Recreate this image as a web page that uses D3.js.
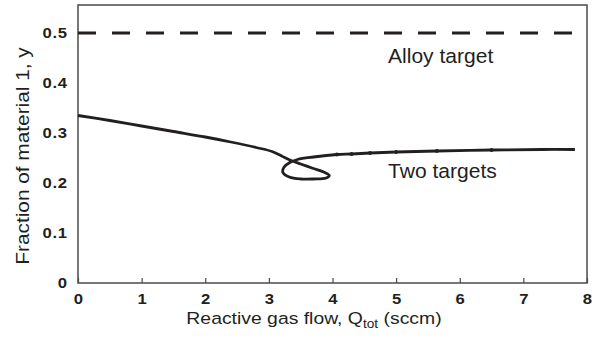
<!DOCTYPE html>
<html>
<head>
<meta charset="utf-8">
<script src="https://cdn.jsdelivr.net/npm/d3@7"></script>
<style>
body { margin: 0; background: #fff; }
text { font-family: "Liberation Sans", Arial, sans-serif; fill: #231f20; }
</style>
</head>
<body>
<div id="chart"></div>
<script>
//////////////////////////////////////////////////////////////////////////////
// Data

var xTicks = [0, 1, 2, 3, 4, 5, 6, 7, 8];
var yTicks = [0, 0.1, 0.2, 0.3, 0.4, 0.5];
var yTickLabels = ["0", "0.1", "0.2", "0.3", "0.4", "0.5"];

var alloyTarget = 0.5;

// two-target curve (with the hysteresis loop)
var flowQ = [0, 0.5, 1, 1.5, 2, 2.4, 2.8, 3.05, 3.2, 3.33, 3.5, 3.7, 3.88, 3.95, 3.9, 3.7, 3.5, 3.32, 3.22, 3.24, 3.33, 3.45, 3.7, 4.07, 4.3, 4.59, 5.0, 5.64, 6.5, 7.3, 7.81];
var fracY = [0.335, 0.325, 0.314, 0.303, 0.292, 0.282, 0.271, 0.263, 0.254, 0.246, 0.238, 0.229, 0.221, 0.215, 0.210, 0.208, 0.208, 0.212, 0.221, 0.232, 0.241, 0.247, 0.252, 0.257, 0.258, 0.260, 0.262, 0.264, 0.266, 0.267, 0.267];
var dotIdx = [23, 24, 25, 26, 27, 28];

//////////////////////////////////////////////////////////////////////////////

var width = 601, height = 343;
var margin = {left: 78, right: 14, top: 5, bottom: 60};
var yMax = 0.556;
var stretch = 1.15;   // the lettering in the picture is a bit wide

var xScale = d3.scaleLinear().domain([0, 8]).range([margin.left, width - margin.right]);
var yScale = d3.scaleLinear().domain([0, yMax]).range([height - margin.bottom, margin.top]);

var svg = d3.select("#chart")
    .append("svg")
    .attr("width", width)
    .attr("height", height);

// frame
svg.append("rect")
    .attr("x", xScale(0))
    .attr("y", yScale(yMax))
    .attr("width", xScale(8) - xScale(0))
    .attr("height", yScale(0) - yScale(yMax))
    .attr("fill", "none")
    .attr("stroke", "#4a4a4a")
    .attr("stroke-width", 1.5);

// x axis, ticks inside
var xAxis = d3.axisBottom(xScale)
    .tickValues(xTicks)
    .tickSizeInner(-5)
    .tickSizeOuter(0)
    .tickPadding(11)
    .tickFormat(d3.format("d"));

var gx = svg.append("g")
    .attr("transform", "translate(0," + yScale(0) + ")")
    .call(xAxis);
gx.select(".domain").remove();
gx.selectAll("line").attr("stroke", "#4a4a4a").attr("stroke-width", 1.2);
gx.selectAll("text")
    .attr("font-size", 14.5)
    .attr("font-weight", "bold")
    .attr("font-family", "Liberation Sans, Arial, sans-serif")
    .attr("fill", "#231f20")
    .attr("transform", "scale(" + stretch + ",1)");

// y axis, labels only
var yAxis = d3.axisLeft(yScale)
    .tickValues(yTicks)
    .tickSize(0)
    .tickPadding(9)
    .tickFormat(function(d, i) { return yTickLabels[i]; });

var gy = svg.append("g")
    .attr("transform", "translate(" + xScale(0) + ",0)")
    .call(yAxis);
gy.select(".domain").remove();
gy.selectAll("text")
    .attr("font-size", 14.5)
    .attr("font-weight", "bold")
    .attr("font-family", "Liberation Sans, Arial, sans-serif")
    .attr("fill", "#231f20")
    .attr("letter-spacing", 0.6)
    .attr("transform", "scale(" + stretch + ",1)");

// dashed alloy target line
svg.append("line")
    .attr("x1", xScale(0))
    .attr("x2", xScale(8))
    .attr("y1", yScale(alloyTarget))
    .attr("y2", yScale(alloyTarget))
    .attr("stroke", "#231f20")
    .attr("stroke-width", 3)
    .attr("stroke-dasharray", "18,16");

// two targets curve
var pts = flowQ.map(function(q, i) { return [q, fracY[i]]; });
var line = d3.line()
    .x(function(d) { return xScale(d[0]); })
    .y(function(d) { return yScale(d[1]); })
    .curve(d3.curveCatmullRom.alpha(0.5));

svg.append("path")
    .datum(pts)
    .attr("d", line)
    .attr("fill", "none")
    .attr("stroke", "#231f20")
    .attr("stroke-width", 2.8)
    .attr("stroke-linejoin", "round");

svg.append("g")
    .selectAll("circle")
    .data(dotIdx)
    .enter()
    .append("circle")
    .attr("cx", function(i) { return xScale(flowQ[i]); })
    .attr("cy", function(i) { return yScale(fracY[i]); })
    .attr("r", 1.9)
    .attr("fill", "#231f20");

// annotations
function label(x, y, size, sx, str) {
    return svg.append("text")
        .attr("transform", "translate(" + x + "," + y + ") scale(" + sx + ",1)")
        .attr("font-size", size)
        .text(str);
}
label(388, 62.5, 19.5, 1.08, "Alloy target");
label(388, 178, 19.5, 1.08, "Two targets");

// axis titles
var xt = svg.append("text")
    .attr("transform", "translate(314,324) scale(1.14,1)")
    .attr("text-anchor", "middle")
    .attr("font-size", 17);
xt.append("tspan").text("Reactive gas flow, Q");
xt.append("tspan").attr("font-size", 12).attr("dy", 4).text("tot");
xt.append("tspan").attr("dy", -4).text(" (sccm)");

svg.append("text")
    .attr("transform", "translate(29,156) rotate(-90) scale(1.19,1)")
    .attr("text-anchor", "middle")
    .attr("font-size", 17.5)
    .text("Fraction of material 1, y");
</script>
</body>
</html>
